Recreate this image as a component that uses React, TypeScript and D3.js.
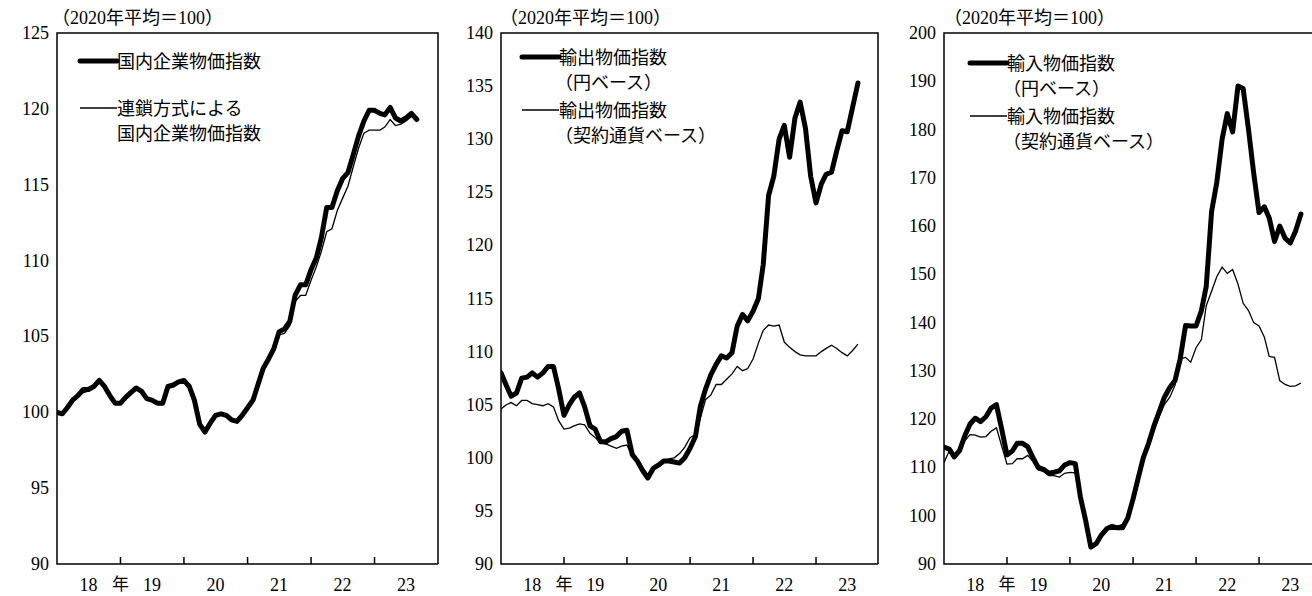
import React from "react";
import * as d3 from "d3";

const yearLabels = ["18", "19", "20", "21", "22", "23"];
const unitLabel = "（2020年平均＝100）";

const cgpi = [100.0,99.9,100.3,100.8,101.1,101.5,101.5,101.7,102.1,101.7,101.1,100.6,
  100.6,101.0,101.3,101.6,101.4,100.9,100.8,100.6,100.6,101.7,101.8,102.0,
  102.1,101.7,100.8,99.2,98.7,99.3,99.8,99.9,99.8,99.5,99.4,99.8,
  100.3,100.8,101.8,102.9,103.5,104.2,105.3,105.5,106.0,107.7,108.4,108.4,
  109.4,110.2,111.5,113.5,113.5,114.6,115.4,115.8,117.0,118.2,119.2,119.9,
  119.9,119.7,119.6,120.1,119.4,119.2,119.4,119.7,119.3];
const cgpiChain = [100.0,99.9,100.3,100.7,101.0,101.3,101.4,101.6,102.0,101.6,101.0,100.6,
  100.6,101.0,101.3,101.6,101.4,100.9,100.8,100.6,100.6,101.6,101.8,102.0,
  102.1,101.7,100.8,99.2,98.7,99.3,99.8,99.9,99.8,99.5,99.4,99.8,
  100.3,100.8,101.8,102.8,103.4,104.0,105.1,105.2,105.7,107.3,107.7,107.7,
  108.7,109.6,110.6,111.9,112.1,113.3,114.1,114.9,116.2,117.4,118.4,118.6,
  118.6,118.6,118.8,119.3,118.9,119.0,119.2,119.5,119.3];

const exportYen = [108.0,106.8,105.8,106.1,107.5,107.6,108.0,107.6,108.0,108.6,108.6,106.5,
  104.0,105.0,105.7,106.1,104.8,103.0,102.7,101.5,101.5,101.8,102.0,102.5,
  102.6,100.3,99.7,98.8,98.1,99.0,99.3,99.7,99.7,99.6,99.5,100.0,
  100.9,102.0,104.8,106.5,107.8,108.8,109.6,109.4,109.9,112.4,113.5,112.9,
  113.8,115.0,118.2,124.7,126.5,130.0,131.3,128.3,132.0,133.5,131.0,126.5,
  124.0,125.8,126.7,126.9,128.9,130.8,130.7,133.0,135.3];
const exportContract = [104.6,105.0,105.2,104.9,105.4,105.4,105.1,105.0,104.9,105.1,104.8,103.5,
  102.7,102.8,103.0,103.2,103.1,102.3,101.9,101.4,101.3,101.1,100.9,101.1,
  101.2,100.1,99.9,99.0,98.3,99.0,99.4,99.7,99.9,100.0,100.4,101.0,
  101.9,102.2,103.7,105.5,105.9,106.9,106.9,107.4,107.9,108.6,108.2,108.4,
  109.3,110.8,112.0,112.5,112.4,112.5,110.9,110.4,110.0,109.7,109.6,109.6,
  109.6,110.0,110.3,110.6,110.3,109.9,109.6,110.1,110.7];

const importYen = [114.2,113.8,112.2,113.5,116.5,119.0,120.2,119.5,120.5,122.3,123.0,118.0,
  112.6,113.4,115.0,115.0,114.3,112.0,110.0,109.6,108.8,109.0,109.3,110.5,
  111.0,110.8,104.0,99.0,93.5,94.2,96.0,97.3,97.8,97.5,97.5,99.5,
  103.5,108.0,112.0,115.0,118.5,121.5,124.5,126.5,128.0,132.5,139.4,139.3,
  139.3,142.5,147.5,163.0,169.0,178.0,183.3,179.5,189.0,188.5,180.0,171.0,
  162.8,164.0,161.7,156.8,160.0,157.5,156.5,159.0,162.5];
const importContract = [111.0,113.5,112.5,113.5,115.5,116.8,116.7,116.3,116.4,117.5,118.2,114.5,
  110.7,110.8,111.8,111.8,112.5,111.2,109.5,109.2,108.3,108.3,108.0,108.8,
  109.0,108.9,103.5,98.5,93.7,94.3,96.3,97.6,98.0,97.8,98.2,100.0,
  104.0,108.5,111.5,114.5,117.5,120.5,123.0,124.5,127.0,132.5,132.8,131.8,
  134.8,136.5,143.5,146.5,149.5,151.5,150.2,151.0,148.0,144.0,142.5,140.0,
  139.3,137.0,133.0,132.8,128.0,127.2,126.8,126.9,127.5];

const panels = [
  { x0: 57, x1: 438, frameRight: 438, yMin: 90, yMax: 125, step: 5, thick: cgpi, thin: cgpiChain,
    legend: [["国内企業物価指数"], ["連鎖方式による", "国内企業物価指数"]], legY: [61, 108], legX: 80, indent: false, unitX: 52 },
  { x0: 501, x1: 879, frameRight: 878, yMin: 90, yMax: 140, step: 5, thick: exportYen, thin: exportContract,
    legend: [["輸出物価指数", "（円ベース）"], ["輸出物価指数", "（契約通貨ベース）"]], legY: [57, 110], legX: 522, indent: true, unitX: 500 },
  { x0: 944, x1: 1322, frameRight: 1322, yMin: 90, yMax: 200, step: 10, thick: importYen, thin: importContract,
    legend: [["輸入物価指数", "（円ベース）"], ["輸入物価指数", "（契約通貨ベース）"]], legY: [63, 116], legX: 970, indent: true, unitX: 944 },
];

const TOP = 33, BOTTOM = 564;
const serif = "'Liberation Serif', 'DejaVu Serif', serif";
const cjk = "'Liberation Serif', 'DejaVu Serif', 'Noto Sans CJK JP', serif";

function Panel({ p }: { p: any }) {
  const x = d3.scaleTime().domain([new Date(2018, 0, 1), new Date(2024, 0, 1)]).range([p.x0, p.x1]);
  const y = d3.scaleLinear().domain([p.yMin, p.yMax]).range([BOTTOM, TOP]);
  const dates = p.thick.map((_: number, i: number) => new Date(2018, i, 1));
  const line = d3.line<number>().x((_, i) => x(dates[i])).y((v) => y(v));
  const yTicks = d3.range(p.yMin, p.yMax + 0.001, p.step);
  const xTicks = [2019, 2020, 2021, 2022, 2023].map((yr) => new Date(yr, 0, 1));
  const clipId = "clip" + p.x0;
  return (
    <g>
      <clipPath id={clipId}><rect x={p.x0} y={TOP} width={p.frameRight - p.x0} height={BOTTOM - TOP} /></clipPath>
      <text x={p.unitX} y={24} style={{ fontFamily: cjk }} fontSize={18}>{unitLabel}</text>
      {yTicks.map((t: number) => (
        <text key={t} x={p.x0 - 8} y={y(t) + 6} textAnchor="end" style={{ fontFamily: serif }} fontSize={18}>{t}</text>
      ))}
      {xTicks.map((d, i) => (
        <line key={i} x1={x(d)} x2={x(d)} y1={BOTTOM} y2={BOTTOM - 7} stroke="#000" strokeWidth={1.5} />
      ))}
      {yearLabels.map((l, i) => (
        <text key={l} x={x(new Date(2018 + i, 6, 1))} y={591} textAnchor="middle" style={{ fontFamily: serif }} fontSize={18}>{l}</text>
      ))}
      <text x={x(new Date(2019, 0, 1))} y={590} textAnchor="middle" style={{ fontFamily: cjk }} fontSize={17}>年</text>
      <g clipPath={`url(#${clipId})`}>
        <path d={line(p.thin) || ""} fill="none" stroke="#000" strokeWidth={1.3} />
        <path d={line(p.thick) || ""} fill="none" stroke="#000" strokeWidth={5} strokeLinejoin="round" strokeLinecap="round" />
      </g>
      <path d={`M${p.frameRight},${BOTTOM}H${p.x0}V${TOP}H${p.frameRight}V${BOTTOM}`} fill="none" stroke="#000" strokeWidth={1.5} />
      {p.legend.map((lines: string[], k: number) => (
        <g key={k}>
          <line x1={p.legX} x2={p.legX + 37} y1={p.legY[k]} y2={p.legY[k]} stroke="#000" strokeWidth={k === 0 ? 5 : 1.3} strokeLinecap={k === 0 ? "round" : "butt"} />
          {lines.map((s, j) => (
            <text key={j} x={p.legX + 37 + (j > 0 && p.indent ? -4 : 0)} y={p.legY[k] + 7 + j * 25} style={{ fontFamily: cjk }} fontSize={18}>{s}</text>
          ))}
        </g>
      ))}
    </g>
  );
}

export default function App() {
  return (
    <div style={{ position: "fixed", left: 0, top: 0 }}>
      <svg width={1312} height={596} style={{ display: "block", background: "#fff" }}>
        {panels.map((p, i) => <Panel key={i} p={p} />)}
      </svg>
    </div>
  );
}
